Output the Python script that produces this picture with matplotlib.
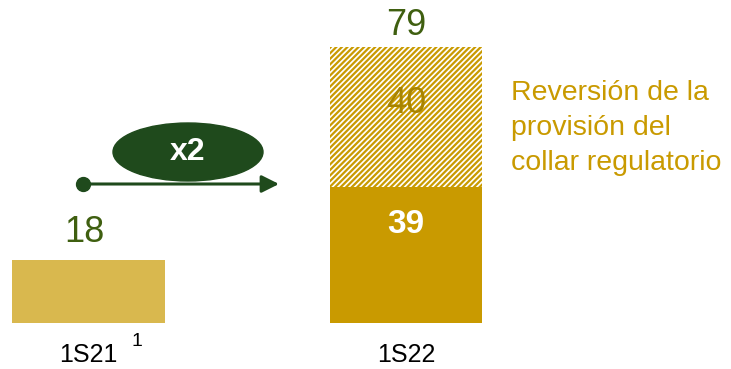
import matplotlib
matplotlib.use('Agg')
import matplotlib.pyplot as plt
from matplotlib.patches import Ellipse

plt.rcParams['font.family'] = ['Liberation Sans', 'DejaVu Sans']
plt.rcParams['hatch.linewidth'] = 1.6

periods = ['1S21', '1S22']
base = [18, 39]
reversal = [0, 40]
totals = [b + r for b, r in zip(base, reversal)]

gold = '#C99A00'
light_gold = '#D9B84E'
green_txt = '#3F5F10'
dark_green = '#1F4A1C'

fig = plt.figure(figsize=(7.31, 3.69), dpi=100)
ax = fig.add_axes([0, 0, 1, 1])

x = range(len(periods))
ax.bar(x, base, width=0.48, color=[light_gold, gold], linewidth=0)
ax.bar(x[1], reversal[1], bottom=base[1], width=0.48, color='white',
       edgecolor=gold, hatch='//////', linewidth=0)

# total above each column
ax.annotate(str(totals[0]), (0, totals[0]), xytext=(-3, 20), textcoords='offset points',
            ha='center', va='center', fontsize=26, color=green_txt)
ax.annotate(str(totals[1]), (1, totals[1]), xytext=(0, 15), textcoords='offset points',
            ha='center', va='center', fontsize=26, color=green_txt)

# segment values inside the second column
ax.text(1, base[1] + reversal[1] / 2 + 3.6, str(reversal[1]), ha='center', va='center',
        fontsize=26, color='#A88400')
ax.text(1, base[1] * 0.72, str(base[1]), ha='center', va='center',
        fontsize=24, color='white', fontweight='bold')

ax.set_xlim(-0.2787, 2.0236)
ax.set_ylim(-13.14, 92.29)
ax.set_xticks(list(x))
ax.set_xticklabels(periods, fontsize=18)
ax.tick_params(axis='x', length=0, pad=-18.5)
ax.set_yticks([])
for s in ax.spines.values():
    s.set_visible(False)
ax.patch.set_alpha(0)

# footnote marker next to first period
ax.text(137 / 731, 1 - 342 / 369, '1', transform=ax.transAxes, ha='center', va='center',
        fontsize=14, color='black')

# growth arrow with multiplier bubble
ax.annotate('', xy=(279 / 731, 1 - 184 / 369), xytext=(83 / 731, 1 - 184 / 369),
            xycoords='axes fraction',
            arrowprops=dict(arrowstyle='-|>', color=dark_green, lw=2.2, mutation_scale=26,
                            shrinkA=0, shrinkB=0))
ax.plot([83 / 731], [1 - 184 / 369], 'o', color=dark_green, markersize=10,
        transform=ax.transAxes)
ax.add_patch(Ellipse((188 / 731, 1 - 152 / 369), 150 / 731, 58 / 369,
                     transform=ax.transAxes, color=dark_green))
ax.text(188 / 731, 1 - 152 / 369, 'x2', transform=ax.transAxes, ha='center', va='center',
        fontsize=23, color='white', fontweight='bold')

ax.text(511 / 731, 1 - 128 / 369, 'Reversión de la\nprovisión del\ncollar regulatorio',
        transform=ax.transAxes, ha='left', va='center', fontsize=20.5, color=gold,
        linespacing=1.45)

fig.savefig('out.png', dpi=100)
